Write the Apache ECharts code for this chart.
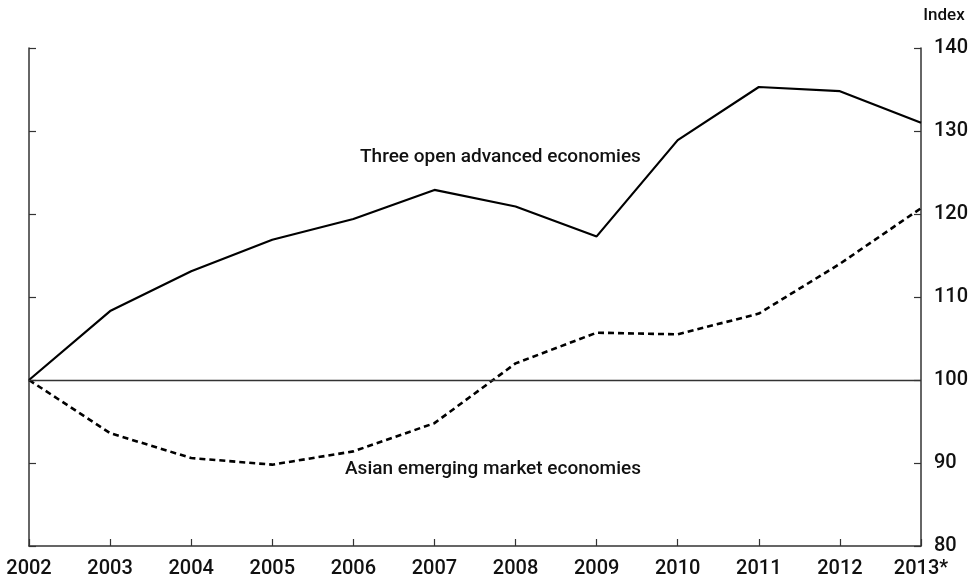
<!DOCTYPE html>
<html>
<head>
<meta charset="utf-8">
<script src="https://cdn.jsdelivr.net/npm/echarts@6/dist/echarts.min.js"></script>
<style>
  html, body { margin: 0; padding: 0; background: #fff; }
  #chart { width: 974px; height: 581px; }
</style>
</head>
<body>
<div id="chart"></div>
<script>
const years = ['2002', '2003', '2004', '2005', '2006', '2007', '2008', '2009', '2010', '2011', '2012', '2013*']
const advanced = [100, 108.3, 113.1, 116.9, 119.4, 122.9, 120.9, 117.3, 128.9, 135.3, 134.8, 131.0]
const asian = [100, 93.6, 90.6, 89.8, 91.4, 94.8, 102.0, 105.7, 105.5, 108.0, 114.0, 120.7]
const yTicks = [80, 90, 100, 110, 120, 130, 140]

const font = 'Roboto, "DejaVu Sans", sans-serif'
const axisColor = '#333'

const chart = echarts.init(document.getElementById('chart'))

chart.setOption({
  animation: false,
  grid: { left: 29, right: 53, top: 48, bottom: 35, outerBoundsMode: 'none' },
  xAxis: {
    type: 'category',
    data: years,
    boundaryGap: false,
    axisLine: { lineStyle: { color: axisColor, width: 1.5 } },
    axisTick: { inside: true, length: 7, lineStyle: { color: axisColor, width: 1.2 } },
    axisLabel: { color: '#111', fontSize: 20, fontWeight: 500, fontFamily: font, margin: 13 },
  },
  yAxis: [
    {
      type: 'value',
      position: 'left',
      min: yTicks[0],
      max: yTicks[yTicks.length - 1],
      interval: 10,
      splitLine: { show: false },
      axisLine: { show: true, lineStyle: { color: axisColor, width: 1.5 } },
      axisTick: { show: true, inside: true, length: 7, lineStyle: { color: axisColor, width: 1.2 } },
      axisLabel: { show: false },
    },
    {
      type: 'value',
      position: 'right',
      min: yTicks[0],
      max: yTicks[yTicks.length - 1],
      interval: 10,
      splitLine: { show: false },
      axisLine: { show: true, lineStyle: { color: axisColor, width: 1.5 } },
      axisTick: { show: true, inside: true, length: 7, lineStyle: { color: axisColor, width: 1.2 } },
      axisLabel: { show: true, color: '#111', fontSize: 20, fontWeight: 500, fontFamily: font, margin: 13 },
      name: 'Index',
      nameGap: 24,
      nameTextStyle: { color: '#111', fontSize: 17, fontFamily: font, fontWeight: 500, align: 'center', padding: [0, 0, 0, 46] },
    },
  ],
  series: [
    {
      name: 'Three open advanced economies',
      type: 'line',
      data: advanced,
      symbol: 'none',
      lineStyle: { color: '#000', width: 2.2 },
      markLine: {
        silent: true,
        symbol: 'none',
        label: { show: false },
        lineStyle: { color: '#333', width: 1.3, type: 'solid' },
        data: [{ yAxis: 100 }],
      },
    },
    {
      name: 'Asian emerging market economies',
      type: 'line',
      data: asian,
      symbol: 'none',
      lineStyle: { color: '#000', width: 2.6, type: [6, 4] },
    },
  ],
  graphic: [
    {
      type: 'text', left: 360, top: 148,
      style: { text: 'Three open advanced economies', fontSize: 19, fontWeight: 500, fontFamily: font, fill: '#111' },
    },
    {
      type: 'text', left: 345, top: 460,
      style: { text: 'Asian emerging market economies', fontSize: 19, fontWeight: 500, fontFamily: font, fill: '#111' },
    },
  ],
})
</script>
</body>
</html>
